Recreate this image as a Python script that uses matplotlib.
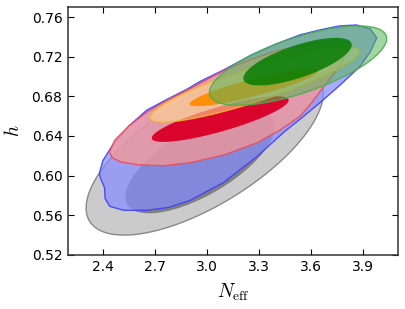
import numpy as np
import matplotlib
matplotlib.use("Agg")
import matplotlib.pyplot as plt

plt.rcParams['mathtext.fontset'] = 'cm'

# contour ellipses: centre x, centre y, half width, half height, tilt (correlation)
gray_95 = [2.987, 0.6255, 0.683, 0.0855, 0.68]
gray_68 = [2.96, 0.614, 0.43, 0.052, 0.68]
orange_95 = [3.276, 0.692, 0.604, 0.038, 0.88]
orange_68 = [3.27, 0.689, 0.37, 0.019, 0.88]
red_68 = [3.076, 0.657, 0.394, 0.023, 0.83]
green_95 = [3.524, 0.711, 0.51, 0.040, 0.68]
green_68 = [3.521, 0.715, 0.312, 0.024, 0.70]

# outlines for the two non-elliptical contours
blue_x = [2.38, 2.40, 2.461, 2.55, 2.653, 2.77, 2.883, 2.96, 3.10, 3.248, 3.40, 3.535,
          3.65, 3.76, 3.861, 3.94, 3.977, 3.94, 3.88, 3.77, 3.66, 3.55, 3.45, 3.286,
          3.094, 2.902, 2.78, 2.653, 2.52, 2.44, 2.413, 2.41, 2.39]
blue_y = [0.602, 0.615, 0.632, 0.650, 0.666, 0.677, 0.687, 0.695, 0.707, 0.721, 0.733, 0.742,
          0.747, 0.751, 0.752, 0.748, 0.739, 0.725, 0.710, 0.692, 0.675, 0.659, 0.645, 0.619,
          0.593, 0.575, 0.568, 0.565, 0.565, 0.569, 0.577, 0.588, 0.596]

red_x = [2.438, 2.47, 2.55, 2.653, 2.77, 2.883, 3.0, 3.12, 3.248, 3.40, 3.55, 3.66,
         3.74, 3.79, 3.804, 3.78, 3.73, 3.669, 3.60, 3.536, 3.42, 3.286, 3.10, 2.902,
         2.75, 2.60, 2.50, 2.455]
red_y = [0.624, 0.636, 0.650, 0.664, 0.676, 0.686, 0.697, 0.708, 0.717, 0.726, 0.731, 0.734,
         0.734, 0.731, 0.727, 0.716, 0.703, 0.689, 0.673, 0.660, 0.646, 0.633, 0.621, 0.613,
         0.610, 0.611, 0.614, 0.618]

xticks = [2.4, 2.7, 3.0, 3.3, 3.6, 3.9]
yticks = [0.52, 0.56, 0.60, 0.64, 0.68, 0.72, 0.76]


def ellipse(p, n=300):
    cx, cy, hx, hy, rho = p
    t = np.linspace(0, 2 * np.pi, n)
    x = cx + hx * np.cos(t)
    y = cy + hy * (rho * np.cos(t) + np.sqrt(1 - rho ** 2) * np.sin(t))
    return x, y


fig = plt.figure(figsize=(4.05, 3.09), dpi=100)
ax = fig.add_axes([0.168, 0.175, 0.815, 0.802])

# gray
x, y = ellipse(gray_95)
ax.fill(x, y, fc=(0.6, 0.6, 0.6, 0.5), ec=(0.45, 0.45, 0.45, 0.8), lw=1)
x, y = ellipse(gray_68)
ax.fill(x, y, fc=(0.3, 0.3, 0.3, 0.6), ec='none')

# blue
ax.fill(blue_x, blue_y, fc=(0.53, 0.55, 1.0, 0.72), ec=(0.25, 0.25, 1.0, 0.9), lw=1)

# red
ax.fill(red_x, red_y, fc=(1.0, 0.6, 0.56, 0.7), ec=(0.92, 0.3, 0.35, 0.9), lw=1)
x, y = ellipse(red_68)
ax.fill(x, y, fc=(0.85, 0.0, 0.16, 0.97), ec='none')

# orange
x, y = ellipse(orange_95)
ax.fill(x, y, fc=(1.0, 0.85, 0.56, 0.6), ec=(0.94, 0.72, 0.16, 0.9), lw=1)
x, y = ellipse(orange_68)
ax.fill(x, y, fc=(1.0, 0.55, 0.0, 0.95), ec='none')

# green
x, y = ellipse(green_95)
ax.fill(x, y, fc=(0.33, 0.7, 0.33, 0.55), ec=(0.3, 0.68, 0.3, 0.9), lw=1)
x, y = ellipse(green_68)
ax.fill(x, y, fc=(0.0, 0.48, 0.0, 0.82), ec='none')

ax.set_xlim(2.2, 4.1)
ax.set_ylim(0.52, 0.77)
ax.set_xticks(xticks)
ax.set_yticks(yticks)
ax.set_xticklabels(['%.1f' % v for v in xticks])
ax.set_yticklabels(['%.2f' % v for v in yticks])
ax.tick_params(direction='in', top=True, right=True, length=4, width=0.8,
               labelsize=10, pad=4)
for s in ax.spines.values():
    s.set_color('#333333')
    s.set_linewidth(1.1)

ax.set_xlabel(r'$N_{\rm eff}$', fontsize=14, labelpad=5)
ax.set_ylabel(r'$h$', fontsize=14, labelpad=6)

fig.savefig('out.png', dpi=100)
